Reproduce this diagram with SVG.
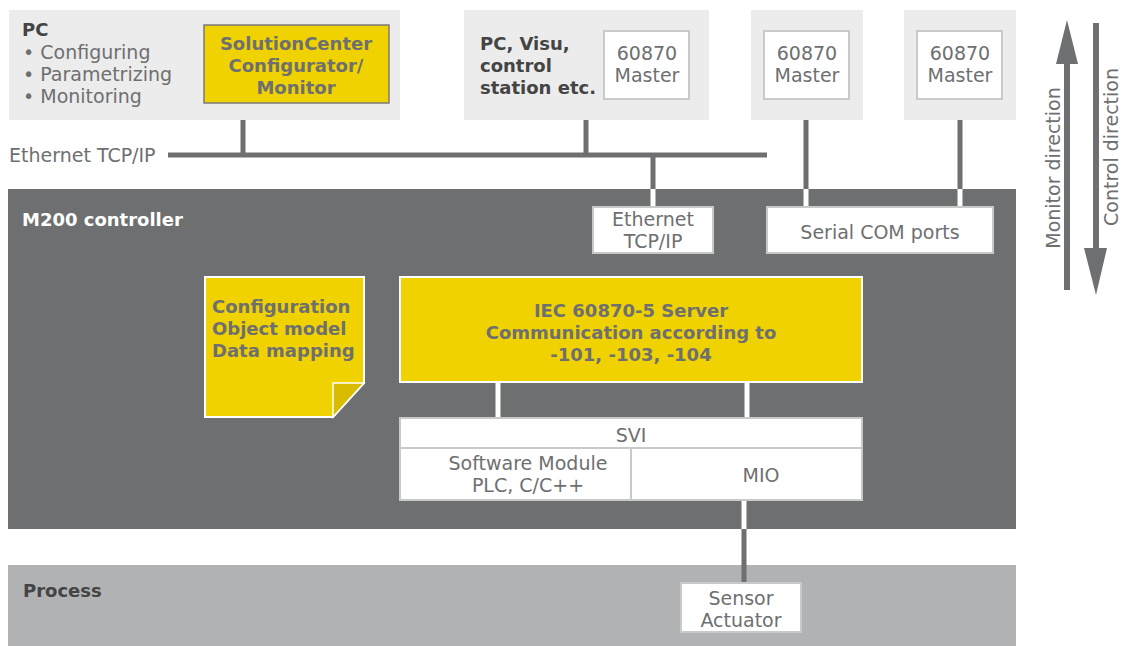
<svg xmlns="http://www.w3.org/2000/svg" width="1123" height="646" viewBox="0 0 1123 646">
<defs>
<style>
text{font-family:"DejaVu Sans","Liberation Sans",sans-serif;font-size:19px;fill:#6e6f71}
.b{font-weight:bold;font-size:18px}
.h{font-weight:bold;font-size:18px;fill:#444}
.w{fill:#fff;font-weight:bold;font-size:18px}
.c{text-anchor:middle}
.panel{fill:#ebeceb}
.wbox{fill:#fff;stroke:#c8c9c9;stroke-width:2}
.ybox{fill:#f0d200;stroke:#fff;stroke-width:2}
.dk{stroke:#6e6f71;stroke-width:5;fill:none}
.wl{stroke:#fff;stroke-width:5;fill:none}
</style>
</defs>
<rect width="1123" height="646" fill="#fff"/>
<g id="m200">
<rect x="8" y="189" width="1008" height="340" fill="#6e6f71"/>
<text class="w" x="22" y="226">M200 controller</text>
</g>
<g id="process">
<rect x="8" y="565" width="1008" height="81" fill="#b1b2b4"/>
<text class="h" x="23" y="597">Process</text>
</g>
<g id="connectors">
<line class="dk" x1="168" y1="155" x2="767" y2="155"/>
<line class="dk" x1="243" y1="120" x2="243" y2="155"/>
<line class="dk" x1="586" y1="120" x2="586" y2="155"/>
<line class="dk" x1="653" y1="155" x2="653" y2="189"/>
<line class="wl" x1="653" y1="189" x2="653" y2="207"/>
<line class="dk" x1="806" y1="120" x2="806" y2="189"/>
<line class="wl" x1="806" y1="189" x2="806" y2="207"/>
<line class="dk" x1="960" y1="120" x2="960" y2="189"/>
<line class="wl" x1="960" y1="189" x2="960" y2="207"/>
<line class="wl" x1="498" y1="382" x2="498" y2="418"/>
<line class="wl" x1="747" y1="382" x2="747" y2="418"/>
<line class="wl" x1="744" y1="500" x2="744" y2="529"/>
<line class="dk" x1="744" y1="529" x2="744" y2="583"/>
<line x1="1067" y1="290" x2="1067" y2="60" stroke="#6e6f71" stroke-width="6"/>
<polygon points="1056,64 1067,20 1078,64" fill="#6e6f71"/>
<line x1="1096" y1="23" x2="1096" y2="252" stroke="#6e6f71" stroke-width="6"/>
<polygon points="1084,248 1096,295 1107,248" fill="#6e6f71"/>
</g>
<g id="pc">
<rect class="panel" x="9" y="10" width="391" height="110"/>
<text class="h" x="22" y="36">PC</text>
<text x="23" y="59">• Configuring</text>
<text x="23" y="81">• Parametrizing</text>
<text x="23" y="103">• Monitoring</text>
</g>
<g id="solutioncenter">
<rect x="204" y="25" width="185" height="78" fill="#f0d200" stroke="#7a7a7a" stroke-width="1.5"/>
<text class="b c" x="296" y="50">SolutionCenter</text>
<text class="b c" x="296" y="72">Configurator/</text>
<text class="b c" x="296" y="94">Monitor</text>
</g>
<text id="ethlabel" x="9" y="162">Ethernet TCP/IP</text>
<g id="visu">
<rect class="panel" x="464" y="10" width="245" height="110"/>
<text class="h" x="480" y="50">PC, Visu,</text>
<text class="h" x="480" y="72">control</text>
<text class="h" x="480" y="94">station etc.</text>
<rect class="wbox" x="604" y="31" width="85" height="68"/>
<text class="c" x="647" y="60">60870</text>
<text class="c" x="647" y="82">Master</text>
</g>
<g id="master2">
<rect class="panel" x="751" y="10" width="112" height="110"/>
<rect class="wbox" x="764" y="31" width="85" height="68"/>
<text class="c" x="807" y="60">60870</text>
<text class="c" x="807" y="82">Master</text>
</g>
<g id="master3">
<rect class="panel" x="904" y="10" width="112" height="110"/>
<rect class="wbox" x="917" y="31" width="85" height="68"/>
<text class="c" x="960" y="60">60870</text>
<text class="c" x="960" y="82">Master</text>
</g>
<g id="ethbox">
<rect class="wbox" x="593" y="207" width="120" height="46"/>
<text class="c" x="653" y="226">Ethernet</text>
<text class="c" x="653" y="248">TCP/IP</text>
</g>
<g id="serial">
<rect class="wbox" x="767" y="207" width="226" height="46"/>
<text class="c" x="880" y="239">Serial COM ports</text>
</g>
<g id="config">
<path class="ybox" d="M205,277 H364 V383 L333,417 H205 Z"/>
<path d="M333,417 V383 H364 Z" fill="#d9bb00" stroke="#fff" stroke-width="1.5"/>
<text class="b" x="212" y="313">Configuration</text>
<text class="b" x="212" y="335">Object model</text>
<text class="b" x="212" y="357">Data mapping</text>
</g>
<g id="iec">
<rect class="ybox" x="400" y="277" width="462" height="105"/>
<text class="b c" x="631" y="317">IEC 60870-5 Server</text>
<text class="b c" x="631" y="339">Communication according to</text>
<text class="b c" x="631" y="361">-101, -103, -104</text>
</g>
<g id="svi">
<rect class="wbox" x="400" y="418" width="462" height="30"/>
<text class="c" x="631" y="442">SVI</text>
</g>
<g id="software">
<rect class="wbox" x="400" y="448" width="231" height="52"/>
<text class="c" x="528" y="470">Software Module</text>
<text class="c" x="528" y="492">PLC, C/C++</text>
</g>
<g id="mio">
<rect class="wbox" x="631" y="448" width="231" height="52"/>
<text class="c" x="761" y="482">MIO</text>
</g>
<g id="sensor">
<rect class="wbox" x="681" y="583" width="120" height="49"/>
<text class="c" x="741" y="605">Sensor</text>
<text class="c" x="741" y="627">Actuator</text>
</g>
<g id="directions">
<text class="c" transform="translate(1060,168) rotate(-90)">Monitor direction</text>
<text class="c" transform="translate(1118,147) rotate(-90)">Control direction</text>
</g>
</svg>
